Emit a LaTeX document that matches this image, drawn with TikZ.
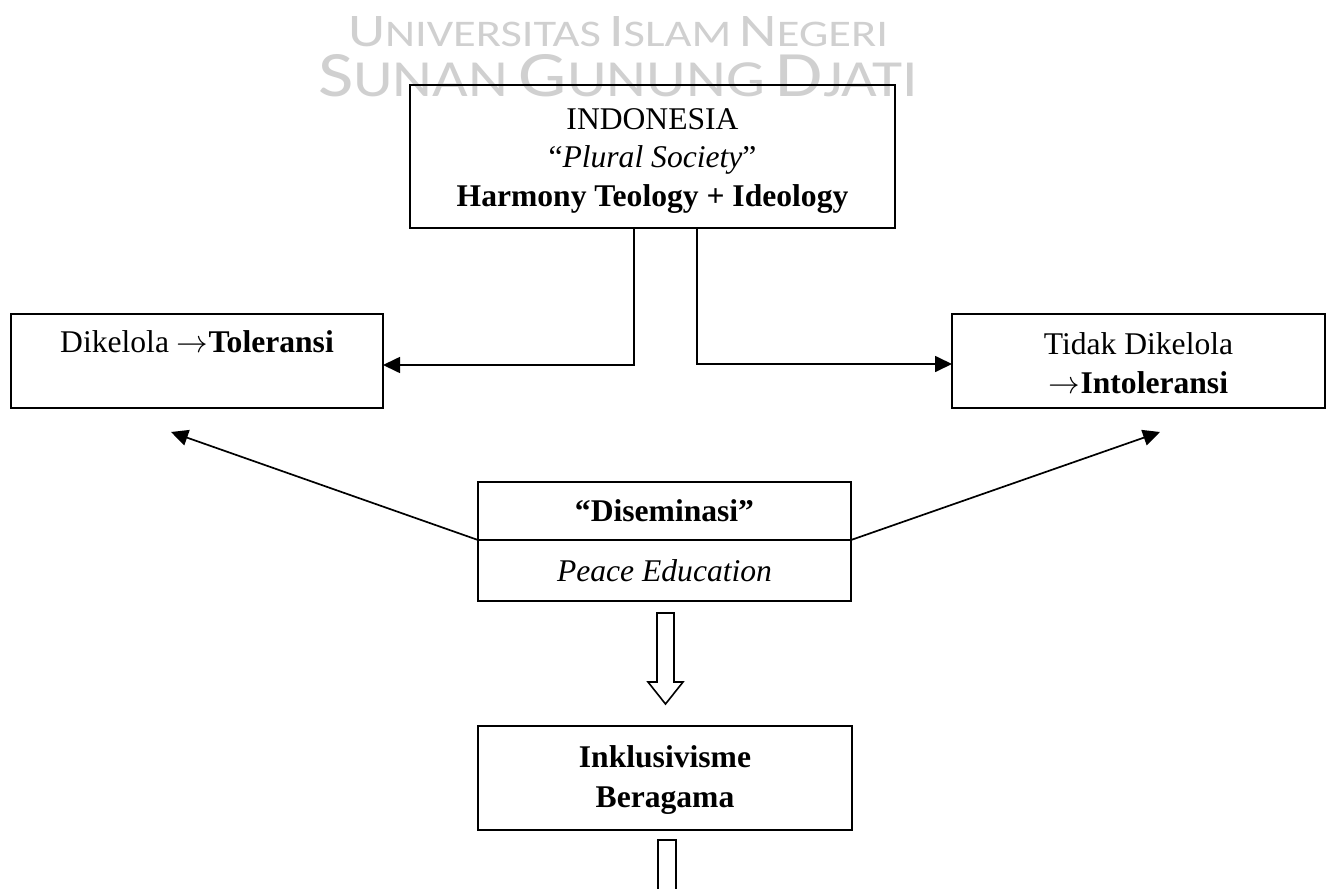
\RequirePackage{fix-cm}
\documentclass[tikz,border=0pt]{standalone}
\usepackage{fontspec}
\setmainfont{Liberation Serif}
\newfontfamily\wmfont{Carlito}
\usetikzlibrary{arrows.meta}
\definecolor{wmgray}{RGB}{208,208,208}
\newcommand{\bigsc}[1]{{\fontsize{46}{46}\selectfont #1}}
\newcommand{\smlsc}[1]{{\fontsize{37}{37}\selectfont #1}}
\newcommand{\wsp}{\hspace{0.65em}}
\newcommand{\rarr}{$\rightarrow$}
\begin{document}
\begin{tikzpicture}[x=1pt,y=-1pt,
  box/.style={draw,line width=1.7pt,inner sep=0pt,outer sep=0pt,align=center,
    font=\fontsize{31.6}{38.5}\selectfont},
  conn/.style={line width=1.7pt,-{Triangle[length=17pt,width=16pt]}},
  hollow/.style={draw,line width=1.6pt,fill=white,line join=miter},
  wm/.style={inner sep=0pt,outer sep=0pt,text=wmgray,font=\wmfont}]
\clip (0,0) rectangle (1332,888);
\fill[white] (0,0) rectangle (1332,888);
% watermark
\node[wm,anchor=base west] (wm1) at (348,47)
  {\resizebox{540pt}{30pt}{\bigsc{U}\smlsc{NIVERSITAS}\wsp\bigsc{I}\smlsc{SLAM}\wsp\bigsc{N}\smlsc{EGERI}}};
\node[wm,anchor=base west] (wm2) at (318,97)
  {\resizebox{600pt}{42pt}{\bigsc{S}\smlsc{UNAN}\wsp\bigsc{G}\smlsc{UNUNG}\wsp\bigsc{D}\smlsc{JATI}}};
% boxes
\node[box,minimum width=485pt,minimum height=143pt] (top) at (652.5,156.5)
  {\rule{0pt}{29pt}INDONESIA\\“\textit{Plural Society}”\\\textbf{Harmony Teology + Ideology}};
\node[box,minimum width=372pt,minimum height=94pt] (left) at (197,361)
  {Dikelola \rarr\textbf{Toleransi}\\\phantom{X}};
\node[box,minimum width=373pt,minimum height=94pt] (right) at (1138.5,361)
  {\rule{0pt}{26pt}Tidak Dikelola\\\rarr\textbf{Intoleransi}};
\node[box,minimum width=373pt,minimum height=58pt] (dtop) at (664.5,511)
  {\textbf{“Diseminasi”}};
\node[box,minimum width=373pt,minimum height=61pt,anchor=north] (dbot) at (dtop.south)
  {\textit{Peace Education}};
\node[box,minimum width=374pt,minimum height=104pt] (ink) at (665,778)
  {\rule{0pt}{26pt}\textbf{Inklusivisme}\\[1.5pt]\textbf{Beragama}};
% connectors
\coordinate (tl) at (634,0);
\coordinate (tr) at (697,0);
\draw[conn] (tl |- top.south) |- ([yshift=-4pt]left.east);
\draw[conn] (tr |- top.south) |- ([yshift=-3pt]right.west);
\coordinate (ltip) at (171,432);
\coordinate (rtip) at (1160,432);
\draw[conn] (dtop.south west) -- (ltip);
\draw[conn] (dtop.south east) -- (rtip);
% hollow arrows
\path[hollow] (657,613) -- (674,613) -- (674,682) -- (683,682) -- (665.5,704)
  -- (648,682) -- (657,682) -- cycle;
\path[hollow] (658,900) -- (658,840) -- (676,840) -- (676,900);
\end{tikzpicture}
\end{document}
